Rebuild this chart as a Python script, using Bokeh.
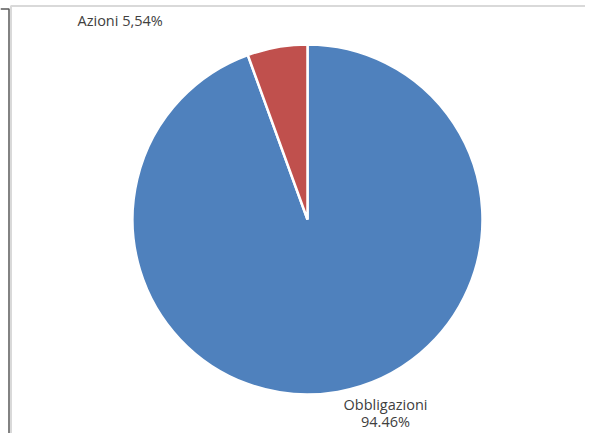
import numpy as np
from bokeh.plotting import figure
from bokeh.models import Range1d, ColumnDataSource
from bokeh.core.properties import value
from bokeh.embed import file_html
from bokeh.resources import INLINE

# Data
categories = ["Obbligazioni", "Azioni"]
shares = [94.46, 5.54]
colors = ["#4F81BD", "#C0504D"]

W, H = 585, 433
p = figure(width=W, height=H, output_backend="svg", toolbar_location=None,
           x_range=Range1d(0, W), y_range=Range1d(0, H),
           min_border=0, outline_line_color=None, background_fill_color="white",
           border_fill_color="white")
p.axis.visible = False
p.grid.visible = False

# screen pixel (from top-left) -> data coords
def Y(y):
    return H - y

# light gray chart-area border
p.line([10.5, 10.5, W], [0, Y(5.5), Y(5.5)], line_color="#d9d9d9", line_width=2)
# dark outer line
p.line([0, 8.5, 8.5], [Y(8.5), Y(8.5), 0], line_color="#595959", line_width=1.5)

# Pie
cx, cy, r = 307, Y(219), 175
fr = np.array(shares) / sum(shares)
cum = np.concatenate([[0], np.cumsum(fr)])
start = np.pi / 2 - 2 * np.pi * cum[:-1]
end = np.pi / 2 - 2 * np.pi * cum[1:]
src = ColumnDataSource(dict(start=start, end=end, color=colors, cat=categories))
p.wedge(x=cx, y=cy, radius=r, start_angle="start", end_angle="end",
        direction="clock", fill_color="color", line_color="white",
        line_width=2.5, source=src)

# Labels
p.text(x=[385, 385], y=[Y(404), Y(421)], text=[categories[0], f"{shares[0]:.2f}%"],
       text_font=value("Open Sans"), text_font_size="14.5px", text_color="#404040",
       text_align="center", text_baseline="middle")
p.text(x=[77], y=[Y(20)], text=[f"{categories[1]} {shares[1]:.2f}%".replace(".", ",")],
       text_font=value("Open Sans"), text_font_size="14.5px", text_color="#404040",
       text_align="left", text_baseline="middle")

open("out.html", "w").write(file_html(p, INLINE))
